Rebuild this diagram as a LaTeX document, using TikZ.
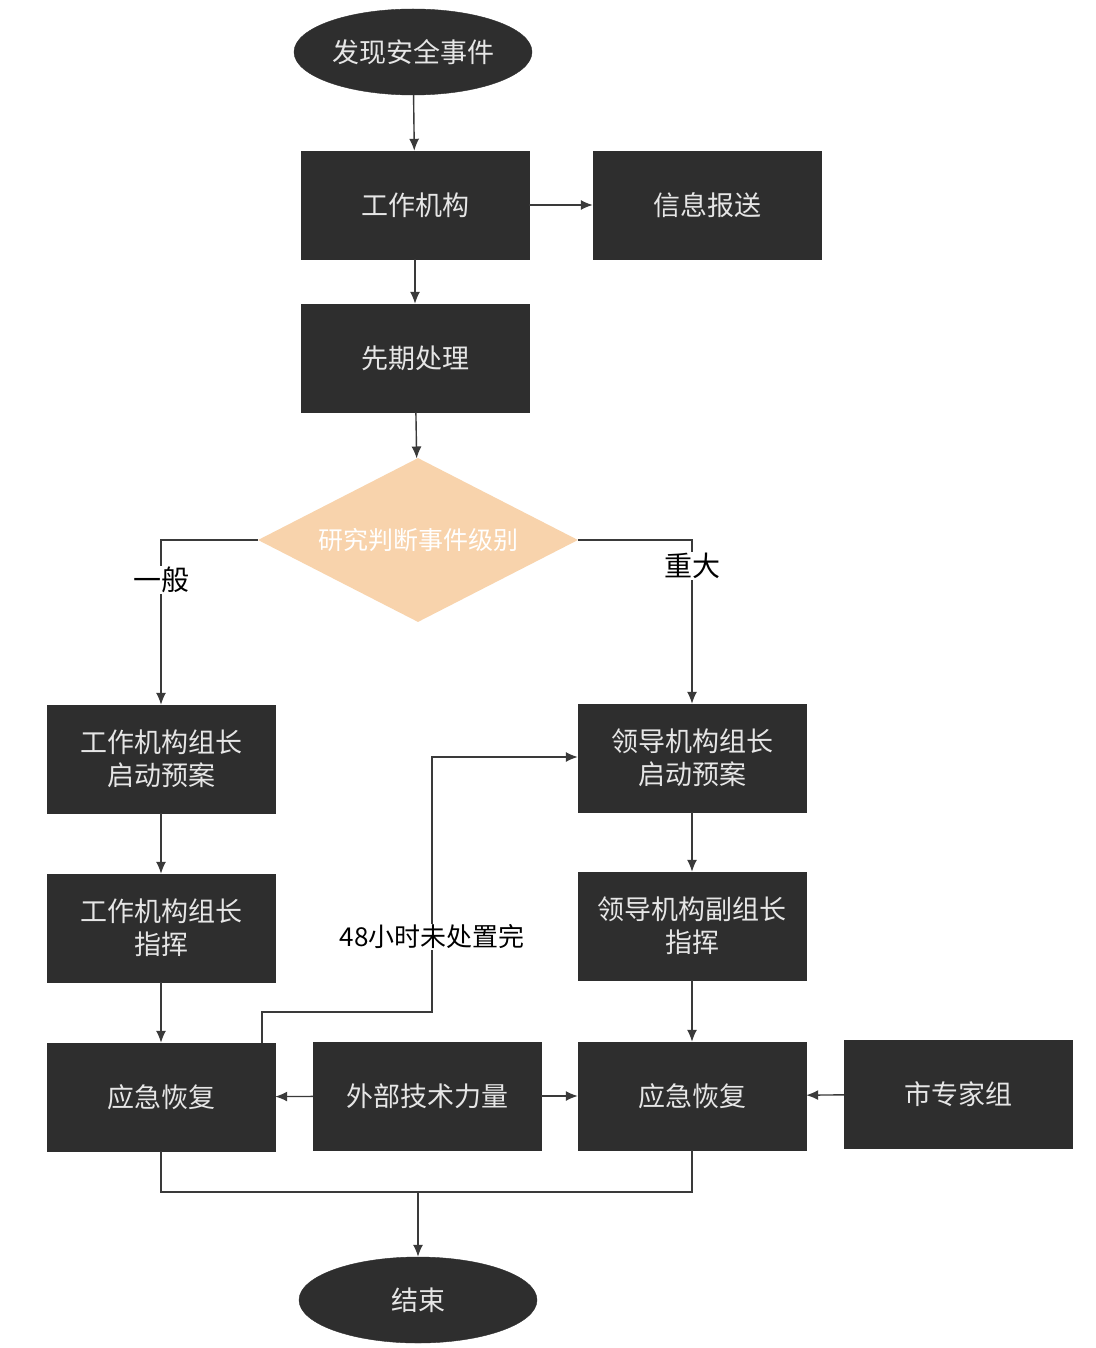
\documentclass[tikz,border=0pt]{standalone}
\usepackage{fontspec}
\newfontfamily\cjk{Noto Sans CJK SC}
\usetikzlibrary{shapes.geometric,arrows.meta}
\definecolor{boxfill}{HTML}{2E2E2E}
\definecolor{boxtext}{HTML}{E6E6E6}
\definecolor{dia}{HTML}{F8D3AC}
\definecolor{ln}{HTML}{3A3A3A}
\begin{document}
\begin{tikzpicture}[x=1pt,y=-1pt,
  box/.style={draw=boxfill,fill=boxfill,text=boxtext,minimum width=228pt,minimum height=108pt,font=\cjk\fontsize{27}{33}\selectfont,align=center,inner sep=0pt},
  term/.style={ellipse,draw=boxfill,fill=boxfill,text=boxtext,minimum width=238pt,minimum height=86pt,font=\cjk\fontsize{27}{33}\selectfont,inner sep=0pt},
  decision/.style={diamond,fill=dia,text=white,minimum width=320pt,minimum height=164pt,aspect=1.95,font=\cjk\fontsize{25}{30}\selectfont,inner sep=0pt},
  conn/.style={ln,line width=1.4pt},
  arr/.style={conn,-{Latex[length=12pt,width=10pt]}},
  lbl/.style={font=\cjk\fontsize{28}{33}\selectfont,text=black,fill=white,inner sep=1pt}]
\useasboundingbox[fill=white] (0,0) rectangle (1095,1348);
\node[term] (start) at (413,52) {发现安全事件};
\node[box] (org) at (415,205) {工作机构};
\node[box] (info) at (707,205) {信息报送};
\node[box] (pre) at (415,358) {先期处理};
\node[decision] (judge) at (418,540) {研究判断事件级别};
\node[box] (l1) at (161,759) {工作机构组长\\启动预案};
\node[box] (r1) at (692,758) {领导机构组长\\启动预案};
\node[box] (l2) at (161,928) {工作机构组长\\指挥};
\node[box] (r2) at (692,926) {领导机构副组长\\指挥};
\node[box] (l3) at (161,1097) {应急恢复};
\node[box] (ext) at (427,1096) {外部技术力量};
\node[box] (r3) at (692,1096) {应急恢复};
\node[box] (exp) at (958,1094) {市专家组};
\node[term] (end) at (418,1300) {结束};
\coordinate (merge) at (418,1192);
\draw[arr] (start) -- (org);
\draw[arr] (org) -- (info);
\draw[arr] (org) -- (pre);
\draw[arr] (pre) -- (judge);
\draw[arr] (judge.west) -| (l1.north) node[lbl,pos=0.62] {一般};
\draw[arr] (judge.east) -| (r1.north) node[lbl,pos=0.58] {重大};
\draw[arr] (l1) -- (l2);
\draw[arr] (l2) -- (l3);
\draw[arr] (r1) -- (r2);
\draw[arr] (r2) -- (r3);
\draw[arr] (ext) -- (l3);
\draw[arr] (ext) -- (r3);
\draw[arr] (exp) -- (r3);
\draw[arr] (l3.north -| 262,0) -- (262,1012) -- (432,1012) -- (432,757) -- (r1.west |- 0,757);
\node[lbl,font=\cjk\fontsize{26}{31}\selectfont] (loop) at (432,937) {48小时未处置完};
\draw[conn] (l3.south) |- (merge) -| (r3.south);
\draw[arr] (merge) -- (end);
\end{tikzpicture}
\end{document}
